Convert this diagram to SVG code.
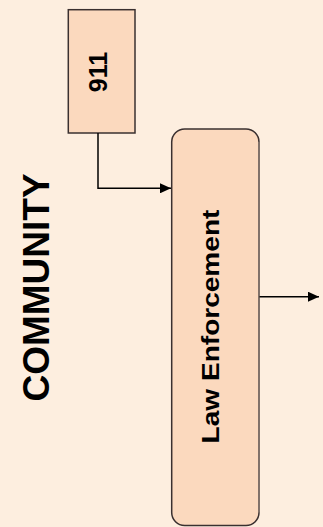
<svg xmlns="http://www.w3.org/2000/svg" width="323" height="527" viewBox="0 0 323 527">
<defs>
<style>
.box{fill:#FBD9BE;stroke:#3a3030;stroke-width:1.5}
.lbl{font-family:"Liberation Sans",Arial,sans-serif;font-weight:bold;fill:#000;text-anchor:middle}
.conn{fill:none;stroke:#000;stroke-width:1.5}
</style>
<marker id="arr" markerWidth="12" markerHeight="10" refX="11" refY="5" orient="auto" markerUnits="userSpaceOnUse">
<path d="M0,0 L11,5 L0,10 Z" fill="#000"/>
</marker>
</defs>
<rect width="323" height="527" fill="#FDEEDF"/>
<g id="community">
<text class="lbl" font-size="37" transform="translate(48.5,287.5) rotate(-90)">COMMUNITY</text>
</g>
<g id="n911">
<rect class="box" x="68.3" y="9.7" width="66.7" height="123.3"/>
<text class="lbl" font-size="25" transform="translate(106.5,72) rotate(-90)">911</text>
</g>
<g id="law">
<rect class="box" x="171.7" y="129" width="87.3" height="396.5" rx="13" ry="13"/>
<path d="M259,142 V512.5" stroke="#8a7a70" stroke-width="1.5" fill="none"/>
<text class="lbl" font-size="23" transform="translate(219.3,326.5) rotate(-90) scale(1.22,1)">Law Enforcement</text>
</g>
<g id="connectors">
<path class="conn" d="M98,133 V188.3 H171" marker-end="url(#arr)"/>
<path class="conn" d="M259.5,296.7 H319" marker-end="url(#arr)"/>
</g>
</svg>
